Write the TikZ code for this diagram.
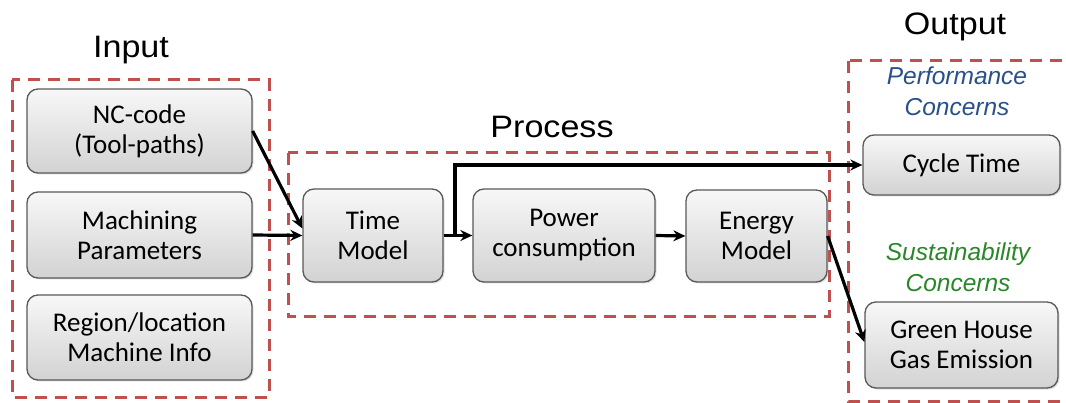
\documentclass[tikz,border=0pt]{standalone}
\usepackage{fontspec}
\setmainfont{Liberation Sans}
\newfontfamily\boxfont{Carlito}
\newfontfamily\headfont[FakeStretch=1.1]{Liberation Sans}
\usetikzlibrary{arrows.meta,shadows}
\definecolor{frame}{RGB}{192,80,77}
\definecolor{perfblue}{RGB}{40,80,140}
\definecolor{sustgreen}{RGB}{40,135,40}
\tikzset{
  block/.style={draw=black!65, line width=1.3pt, rounded corners=11pt,
    top color=gray!6, bottom color=gray!35, align=center,
    font=\boxfont\fontsize{27}{30}\selectfont, inner sep=0pt,
    drop shadow={opacity=0.25, shadow xshift=1.5pt, shadow yshift=-1.5pt}},
  group/.style={draw=frame, line width=3pt, dash pattern=on 12pt off 8pt},
  heading/.style={font=\headfont\fontsize{31}{36}\selectfont},
  concern/.style={font=\itshape\fontsize{24.5}{31}\selectfont, align=center},
  flow/.style={draw=black, line width=3.2pt, -{Stealth[length=12pt,width=11pt]}}
}
\begin{document}
\begin{tikzpicture}[x=1pt,y=-1pt]
\useasboundingbox[fill=white] (0,0) rectangle (1066,403);

% dashed group frames
\draw[group] (12,80) rectangle (269,397);
\draw[group] (288,153) rectangle (829,317);
\draw[group] (848,61) rectangle (1075,401);

% group headings
\node[heading] (hin) at (131,50) {Input};
\node[heading] (hproc) at (552,127) {Process};
\node[heading] (hout) at (955,27) {Output};

% input blocks
\node[block, minimum width=225pt, minimum height=84pt] (nc) at (139.5,131) {NC-code\\(Tool-paths)};
\node[block, minimum width=225pt, minimum height=86pt] (mp) at (139.5,235) {Machining\\Parameters};
\node[block, minimum width=225pt, minimum height=85pt] (rl) at (139.5,337.5) {Region/location\\Machine Info};

% process blocks
\node[block, minimum width=140pt, minimum height=93pt] (tm) at (373,235.5) {Time\\Model};
\node[block, minimum width=182pt, minimum height=93pt] (pc) at (564,235.5) {Power\\consumption};
\node[block, minimum width=141pt, minimum height=92pt] (em) at (756.5,236) {Energy\\Model};

% output side
\node[concern, text=perfblue] (perf) at (957,91) {Performance\\Concerns};
\node[block, minimum width=197pt, minimum height=60pt] (ct) at (961.5,165) {Cycle Time};
\node[concern, text=sustgreen] (sust) at (958,267) {Sustainability\\Concerns};
\node[block, minimum width=193pt, minimum height=86pt] (gh) at (961.5,345) {Green House\\Gas Emission};

% connectors
\coordinate (split) at (455,235.5);
\draw[flow] (nc.east) -- ([yshift=7pt]tm.west);
\draw[flow] (mp.east) -- (tm.west);
\draw[flow] (tm.east) -- (pc.west);
\draw[flow] (split) |- (ct.west);
\draw[flow] (pc.east) -- (em.west);
\draw[flow] (em.east) -- ([yshift=3pt]gh.west);
\end{tikzpicture}
\end{document}
